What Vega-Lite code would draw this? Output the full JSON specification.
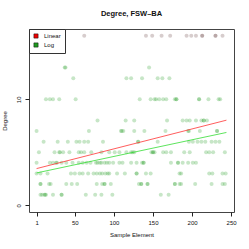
{
  "$schema": "https://vega.github.io/schema/vega-lite/v6.json",
  "autosize": "none",
  "width": 205,
  "height": 183,
  "padding": {"left": 29, "top": 29, "right": 15, "bottom": 37},
  "background": "white",
  "config": {
    "font": "Liberation Sans",
    "view": {"stroke": "#444", "strokeWidth": 1},
    "axis": {"domain": false, "grid": false, "tickColor": "#222", "tickSize": 4, "labelFontSize": 6, "labelColor": "#111", "titleFontSize": 6, "titleFontWeight": "normal", "titleColor": "#111", "labelFont": "Liberation Sans", "titleFont": "Liberation Sans"}
  },
  "title": {"text": "Degree, FSW–BA", "fontSize": 7.5, "fontWeight": "bold", "font": "Liberation Sans", "anchor": "middle", "offset": 11, "color": "#111"},
  "datasets": {
    "pts": [
      {"x": 62, "y": 16, "g": "Cap"}, {"x": 141, "y": 16, "g": "Cap"}, {"x": 149, "y": 16, "g": "Cap"}, {"x": 161, "y": 16, "g": "Cap"}, {"x": 172, "y": 16, "g": "Cap"}, {"x": 193, "y": 16, "g": "Cap"}, {"x": 199, "y": 16, "g": "Cap"}, {"x": 205, "y": 16, "g": "Cap"}, {"x": 213, "y": 16, "g": "Cap"}, {"x": 213, "y": 16, "g": "Cap"}, {"x": 230, "y": 16, "g": "Cap"}, {"x": 230, "y": 16, "g": "Cap"}, {"x": 239, "y": 16, "g": "Cap"},
      {"x": 37, "y": 13, "g": "Log"}, {"x": 38, "y": 13, "g": "Log"}, {"x": 145, "y": 13, "g": "Log"},
      {"x": 48, "y": 12, "g": "Log"}, {"x": 116, "y": 12, "g": "Log"}, {"x": 122, "y": 12, "g": "Log"}, {"x": 136, "y": 12, "g": "Log"}, {"x": 156, "y": 12, "g": "Log"}, {"x": 162, "y": 12, "g": "Log"}, {"x": 171, "y": 12, "g": "Log"},
      {"x": 13, "y": 10, "g": "Log"}, {"x": 18, "y": 10, "g": "Log"}, {"x": 22, "y": 10, "g": "Log"}, {"x": 30, "y": 10, "g": "Log"}, {"x": 51, "y": 10, "g": "Log"}, {"x": 133, "y": 10, "g": "Log"}, {"x": 147, "y": 10, "g": "Log"}, {"x": 152, "y": 10, "g": "Log"}, {"x": 154, "y": 10, "g": "Log"}, {"x": 158, "y": 10, "g": "Log"}, {"x": 163, "y": 10, "g": "Log"}, {"x": 167, "y": 10, "g": "Log"}, {"x": 178, "y": 10, "g": "Log"}, {"x": 180, "y": 10, "g": "Log"}, {"x": 180, "y": 10, "g": "Log"}, {"x": 209, "y": 10, "g": "Log"}, {"x": 209, "y": 10, "g": "Log"}, {"x": 221, "y": 10, "g": "Log"}, {"x": 234, "y": 10, "g": "Log"}, {"x": 236, "y": 10, "g": "Log"},
      {"x": 79, "y": 8, "g": "Log"}, {"x": 115, "y": 8, "g": "Log"}, {"x": 126, "y": 8, "g": "Log"}, {"x": 168, "y": 8, "g": "Log"}, {"x": 188, "y": 8, "g": "Log"}, {"x": 193, "y": 8, "g": "Log"}, {"x": 197, "y": 8, "g": "Log"}, {"x": 205, "y": 8, "g": "Log"}, {"x": 212, "y": 8, "g": "Log"}, {"x": 215, "y": 8, "g": "Log"}, {"x": 215, "y": 8, "g": "Log"}, {"x": 219, "y": 8, "g": "Log"},
      {"x": 1, "y": 7, "g": "Log"}, {"x": 68, "y": 7, "g": "Log"}, {"x": 109, "y": 7, "g": "Log"}, {"x": 110, "y": 7, "g": "Log"}, {"x": 112, "y": 7, "g": "Log"}, {"x": 126, "y": 7, "g": "Log"}, {"x": 139, "y": 7, "g": "Log"}, {"x": 166, "y": 7, "g": "Log"}, {"x": 195, "y": 7, "g": "Log"}, {"x": 196, "y": 7, "g": "Log"}, {"x": 210, "y": 7, "g": "Log"}, {"x": 232, "y": 7, "g": "Log"}, {"x": 232, "y": 7, "g": "Log"},
      {"x": 10, "y": 6, "g": "Log"}, {"x": 28, "y": 6, "g": "Log"}, {"x": 41, "y": 6, "g": "Log"}, {"x": 52, "y": 6, "g": "Log"}, {"x": 56, "y": 6, "g": "Log"}, {"x": 62, "y": 6, "g": "Log"}, {"x": 67, "y": 6, "g": "Log"}, {"x": 86, "y": 6, "g": "Log"}, {"x": 131, "y": 6, "g": "Log"}, {"x": 131, "y": 6, "g": "Log"}, {"x": 156, "y": 6, "g": "Log"}, {"x": 196, "y": 6, "g": "Log"}, {"x": 201, "y": 6, "g": "Log"}, {"x": 207, "y": 6, "g": "Log"}, {"x": 212, "y": 6, "g": "Log"}, {"x": 217, "y": 6, "g": "Log"}, {"x": 225, "y": 6, "g": "Log"}, {"x": 230, "y": 6, "g": "Log"}, {"x": 235, "y": 6, "g": "Log"},
      {"x": 4, "y": 5, "g": "Log"}, {"x": 24, "y": 5, "g": "Log"}, {"x": 30, "y": 5, "g": "Log"}, {"x": 31, "y": 5, "g": "Log"}, {"x": 35, "y": 5, "g": "Log"}, {"x": 43, "y": 5, "g": "Log"}, {"x": 55, "y": 5, "g": "Log"}, {"x": 58, "y": 5, "g": "Log"}, {"x": 62, "y": 5, "g": "Log"}, {"x": 71, "y": 5, "g": "Log"}, {"x": 84, "y": 5, "g": "Log"}, {"x": 94, "y": 5, "g": "Log"}, {"x": 101, "y": 5, "g": "Log"}, {"x": 107, "y": 5, "g": "Log"}, {"x": 116, "y": 5, "g": "Log"}, {"x": 122, "y": 5, "g": "Log"}, {"x": 124, "y": 5, "g": "Log"}, {"x": 126, "y": 5, "g": "Log"}, {"x": 148, "y": 5, "g": "Log"}, {"x": 150, "y": 5, "g": "Log"}, {"x": 150, "y": 5, "g": "Log"}, {"x": 152, "y": 5, "g": "Log"}, {"x": 163, "y": 5, "g": "Log"}, {"x": 167, "y": 5, "g": "Log"}, {"x": 173, "y": 5, "g": "Log"}, {"x": 190, "y": 5, "g": "Log"}, {"x": 197, "y": 5, "g": "Log"}, {"x": 218, "y": 5, "g": "Log"}, {"x": 222, "y": 5, "g": "Log"}, {"x": 227, "y": 5, "g": "Log"}, {"x": 242, "y": 5, "g": "Log"},
      {"x": 1, "y": 4, "g": "Log"}, {"x": 18, "y": 4, "g": "Log"}, {"x": 22, "y": 4, "g": "Log"}, {"x": 26, "y": 4, "g": "Log"}, {"x": 27, "y": 4, "g": "Log"}, {"x": 33, "y": 4, "g": "Log"}, {"x": 39, "y": 4, "g": "Log"}, {"x": 47, "y": 4, "g": "Log"}, {"x": 55, "y": 4, "g": "Log"}, {"x": 60, "y": 4, "g": "Log"}, {"x": 65, "y": 4, "g": "Log"}, {"x": 70, "y": 4, "g": "Log"}, {"x": 77, "y": 4, "g": "Log"}, {"x": 79, "y": 4, "g": "Log"}, {"x": 82, "y": 4, "g": "Log"}, {"x": 84, "y": 4, "g": "Log"}, {"x": 88, "y": 4, "g": "Log"}, {"x": 91, "y": 4, "g": "Log"}, {"x": 94, "y": 4, "g": "Log"}, {"x": 99, "y": 4, "g": "Log"}, {"x": 107, "y": 4, "g": "Log"}, {"x": 111, "y": 4, "g": "Log"}, {"x": 122, "y": 4, "g": "Log"}, {"x": 129, "y": 4, "g": "Log"}, {"x": 136, "y": 4, "g": "Log"}, {"x": 138, "y": 4, "g": "Log"}, {"x": 138, "y": 4, "g": "Log"}, {"x": 173, "y": 4, "g": "Log"}, {"x": 182, "y": 4, "g": "Log"}, {"x": 182, "y": 4, "g": "Log"}, {"x": 188, "y": 4, "g": "Log"}, {"x": 195, "y": 4, "g": "Log"}, {"x": 201, "y": 4, "g": "Log"}, {"x": 205, "y": 4, "g": "Log"},
      {"x": 1, "y": 3, "g": "Log"}, {"x": 6, "y": 3, "g": "Log"}, {"x": 15, "y": 3, "g": "Log"}, {"x": 45, "y": 3, "g": "Log"}, {"x": 50, "y": 3, "g": "Log"}, {"x": 56, "y": 3, "g": "Log"}, {"x": 60, "y": 3, "g": "Log"}, {"x": 67, "y": 3, "g": "Log"}, {"x": 74, "y": 3, "g": "Log"}, {"x": 78, "y": 3, "g": "Log"}, {"x": 82, "y": 3, "g": "Log"}, {"x": 85, "y": 3, "g": "Log"}, {"x": 89, "y": 3, "g": "Log"}, {"x": 92, "y": 3, "g": "Log"}, {"x": 94, "y": 3, "g": "Log"}, {"x": 104, "y": 3, "g": "Log"}, {"x": 114, "y": 3, "g": "Log"}, {"x": 129, "y": 3, "g": "Log"}, {"x": 129, "y": 3, "g": "Log"}, {"x": 141, "y": 3, "g": "Log"}, {"x": 147, "y": 3, "g": "Log"}, {"x": 184, "y": 3, "g": "Log"}, {"x": 186, "y": 3, "g": "Log"}, {"x": 222, "y": 3, "g": "Log"}, {"x": 226, "y": 3, "g": "Log"}, {"x": 239, "y": 3, "g": "Log"}, {"x": 243, "y": 3, "g": "Log"},
      {"x": 6, "y": 2, "g": "Log"}, {"x": 6, "y": 2, "g": "Log"}, {"x": 17, "y": 2, "g": "Log"}, {"x": 19, "y": 2, "g": "Log"}, {"x": 39, "y": 2, "g": "Log"}, {"x": 46, "y": 2, "g": "Log"}, {"x": 53, "y": 2, "g": "Log"}, {"x": 78, "y": 2, "g": "Log"}, {"x": 85, "y": 2, "g": "Log"}, {"x": 88, "y": 2, "g": "Log"}, {"x": 88, "y": 2, "g": "Log"}, {"x": 96, "y": 2, "g": "Log"}, {"x": 132, "y": 2, "g": "Log"}, {"x": 135, "y": 2, "g": "Log"}, {"x": 135, "y": 2, "g": "Log"}, {"x": 143, "y": 2, "g": "Log"}, {"x": 143, "y": 2, "g": "Log"}, {"x": 178, "y": 2, "g": "Log"}, {"x": 178, "y": 2, "g": "Log"}, {"x": 184, "y": 2, "g": "Log"}, {"x": 186, "y": 2, "g": "Log"}, {"x": 204, "y": 2, "g": "Log"}, {"x": 225, "y": 2, "g": "Log"}, {"x": 239, "y": 2, "g": "Log"}, {"x": 242, "y": 2, "g": "Log"},
      {"x": 6, "y": 1, "g": "Log"}, {"x": 8, "y": 1, "g": "Log"}, {"x": 11, "y": 1, "g": "Log"}, {"x": 12, "y": 1, "g": "Log"}, {"x": 13, "y": 1, "g": "Log"}, {"x": 22, "y": 1, "g": "Log"}, {"x": 33, "y": 1, "g": "Log"}, {"x": 33, "y": 1, "g": "Log"}, {"x": 64, "y": 1, "g": "Log"}, {"x": 76, "y": 1, "g": "Log"}, {"x": 84, "y": 1, "g": "Log"}, {"x": 98, "y": 1, "g": "Log"}, {"x": 160, "y": 1, "g": "Log"}, {"x": 170, "y": 1, "g": "Log"}
    ],
    "fits": [
      {"x": 1, "y": 3.46, "fit": "Linear"}, {"x": 244, "y": 8.03, "fit": "Linear"},
      {"x": 1, "y": 3.05, "fit": "Log"}, {"x": 244, "y": 6.87, "fit": "Log"}
    ]
  },
  "layer": [
    {
      "data": {"name": "pts"},
      "mark": {"type": "circle", "size": 16, "opacity": 0.25, "stroke": null},
      "encoding": {
        "x": {"field": "x", "type": "quantitative", "scale": {"domain": [-8.7, 253.7], "nice": false, "zero": false}, "axis": {"title": "Sample Element", "values": [1, 50, 100, 150, 200, 250], "labelPadding": 3, "titlePadding": 6, "labelFlush": false}},
        "y": {"field": "y", "type": "quantitative", "scale": {"domain": [-0.64, 16.64], "nice": false, "zero": false}, "axis": {"title": "Degree", "values": [0, 10], "labelAngle": -90, "labelAlign": "center", "labelBaseline": "bottom", "labelPadding": 4, "titlePadding": 8, "labelFlush": false}},
        "color": {"field": "g", "type": "nominal", "scale": {"domain": ["Linear", "Log", "Cap"], "range": ["#ee0000", "#1e9a1e", "#603838"]},
          "legend": {"title": null, "values": ["Linear", "Log"], "orient": "top-left", "offset": 0, "padding": 4, "strokeColor": "#333", "fillColor": "white", "symbolType": "square", "symbolSize": 18, "symbolOpacity": 1, "symbolStrokeColor": "#111", "symbolStrokeWidth": 0.5, "labelFontSize": 6, "labelFont": "Liberation Sans", "labelColor": "#111", "rowPadding": 1, "labelOffset": 5, "cornerRadius": 0}}
      }
    },
    {
      "data": {"name": "fits"},
      "mark": {"type": "line", "strokeWidth": 0.8},
      "encoding": {
        "x": {"field": "x", "type": "quantitative"},
        "y": {"field": "y", "type": "quantitative"},
        "detail": {"field": "fit"},
        "stroke": {"field": "fit", "type": "nominal", "scale": {"domain": ["Linear", "Log"], "range": ["#ff3333", "#33dd33"]}, "legend": null}
      }
    }
  ]
}
